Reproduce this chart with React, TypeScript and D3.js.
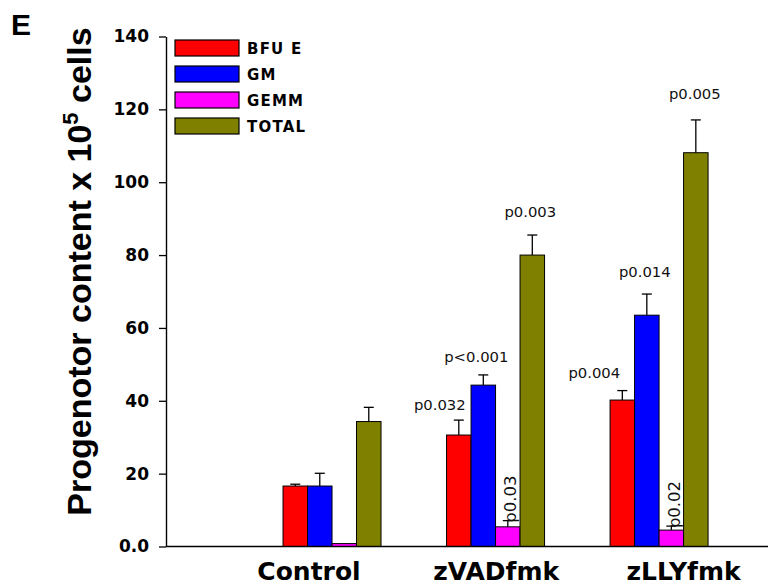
import React, { useEffect, useRef } from "react";
import * as d3 from "d3";

const categories = ["Control", "zVADfmk", "zLLYfmk"];
const seriesNames = ["BFU E", "GM", "GEMM", "TOTAL"];
const bfuE = [16.6, 30.6, 40.2];
const bfuEErr = [0.5, 4.1, 2.6];
const gm = [16.6, 44.3, 63.5];
const gmErr = [3.5, 2.8, 5.8];
const gemm = [0.8, 5.4, 4.5];
const gemmErr = [0, 1.7, 1.1];
const total = [34.3, 80.0, 108.1];
const totalErr = [3.9, 5.5, 9.0];
const bfuELabels = ["", "p0.032", "p0.004"];
const gmLabels = ["", "p<0.001", "p0.014"];
const gemmLabels = ["", "p0.03", "p0.02"];
const totalLabels = ["", "p0.003", "p0.005"];
const yTicks = [0, 20, 40, 60, 80, 100, 120, 140];

// layout constants (styling / nudges)
const colors = ["#ff0000", "#0000ff", "#ff00ff", "#808000"];
const labelNudge = [
  [[0, 0], [-19, 10], [-28, 13]],
  [[0, 0], [-7, 13], [-2, 17]],
  [[0, 0], [8, -2], [9, -2]],
  [[0, 0], [-2, 18], [-1, 21]],
];

export default function App() {
  const ref = useRef<SVGSVGElement>(null);
  useEffect(() => {
    const svg = d3.select(ref.current);
    svg.selectAll("*").remove();
    const values = [bfuE, gm, gemm, total];
    const errs = [bfuEErr, gmErr, gemmErr, totalErr];
    const labels = [bfuELabels, gmLabels, gemmLabels, totalLabels];

    const x = d3.scaleLinear().domain([0, 3.66]).range([168.5, 767]);
    const y = d3.scaleLinear().domain([0, 140]).range([546.5, 36.5]);
    const bw = 24.5;
    const bold = "'DejaVu Sans', sans-serif";

    // y axis
    const yAxis = d3
      .axisLeft(y)
      .tickValues(yTicks)
      .tickSize(7)
      .tickSizeOuter(0)
      .tickPadding(10)
      .tickFormat((d: any) => (d === 0 ? "0.0" : String(d)));
    const ga = svg.append("g").attr("transform", "translate(166,0)").call(yAxis as any);
    ga.select(".domain").attr("stroke", "#000").attr("stroke-width", 1.4);
    ga.selectAll(".tick line").attr("stroke", "#000").attr("stroke-width", 1.3);
    ga.selectAll(".tick text")
      .attr("font-family", bold)
      .attr("font-weight", "bold")
      .attr("font-size", 17)
      .attr("fill", "#000");

    // bars
    categories.forEach((_, ci) => {
      values.forEach((vals, si) => {
        const cx = x(ci + 1);
        const left = cx + (si - 2) * bw;
        const center = left + bw / 2;
        const top = y(vals[ci]);
        svg
          .append("rect")
          .attr("x", left)
          .attr("y", top)
          .attr("width", bw)
          .attr("height", y(0) - top)
          .attr("fill", colors[si])
          .attr("stroke", "#000")
          .attr("stroke-width", 1);
        const e = errs[si][ci];
        const capY = y(vals[ci] + e);
        if (e > 0) {
          svg.append("line").attr("x1", center).attr("x2", center).attr("y1", top).attr("y2", capY)
            .attr("stroke", "#000").attr("stroke-width", 1.3);
          svg.append("line").attr("x1", center - 5).attr("x2", center + 5).attr("y1", capY).attr("y2", capY)
            .attr("stroke", "#000").attr("stroke-width", 1.3);
        }
        const lab = labels[si][ci];
        if (lab) {
          const [dx, gap] = labelNudge[si][ci];
          if (si === 2) {
            svg.append("text")
              .attr("transform", `translate(${center + dx},${capY - gap}) rotate(-90)`)
              .attr("font-family", "'DejaVu Sans', sans-serif")
              .attr("font-size", 16.5)
              .attr("fill", "#111")
              .text(lab);
          } else {
            svg.append("text")
              .attr("x", center + dx)
              .attr("y", capY - gap)
              .attr("text-anchor", "middle")
              .attr("font-family", "'DejaVu Sans', sans-serif")
              .attr("font-size", 14.8)
              .attr("fill", "#111")
              .text(lab);
          }
        }
      });
    });

    // x axis line
    svg.append("line").attr("x1", 166).attr("x2", 768).attr("y1", y(0)).attr("y2", y(0))
      .attr("stroke", "#000").attr("stroke-width", 1.5);

    // category labels
    const xl = d3.scalePoint().domain(categories).range([309, 683.5]);
    svg.selectAll(".cat").data(categories).enter().append("text")
      .attr("x", (d) => xl(d) as number)
      .attr("y", 580)
      .attr("text-anchor", "middle")
      .attr("font-family", bold)
      .attr("font-weight", "bold")
      .attr("font-size", 25)
      .attr("fill", "#000")
      .text((d) => d);

    // legend
    seriesNames.forEach((name, i) => {
      const ty = 40 + i * 26;
      svg.append("rect").attr("x", 175).attr("y", ty).attr("width", 64).attr("height", 16)
        .attr("fill", colors[i]).attr("stroke", "#000").attr("stroke-width", 1.2);
      svg.append("text").attr("x", 247).attr("y", ty + 14)
        .attr("font-family", bold).attr("font-weight", "bold").attr("font-size", 15)
        .attr("letter-spacing", 1.2).attr("fill", "#000").text(name);
    });

    // y title
    const t = svg.append("text")
      .attr("transform", "translate(91,271.5) rotate(-90)")
      .attr("text-anchor", "middle")
      .attr("font-family", "'Liberation Sans', Arial, sans-serif")
      .attr("font-weight", "bold")
      .attr("font-size", 34)
      .attr("fill", "#000");
    t.append("tspan").text("Progenotor content x 10");
    t.append("tspan").attr("font-size", 22).attr("dy", -13).text("5");
    t.append("tspan").attr("dy", 13).text(" cells");

    // panel letter
    svg.append("text").attr("x", 11).attr("y", 35)
      .attr("font-family", "'Liberation Sans', Arial, sans-serif")
      .attr("font-weight", "bold").attr("font-size", 30).attr("fill", "#000").text("E");
  }, []);

  return (
    <svg
      ref={ref}
      width={768}
      height={588}
      style={{ position: "absolute", left: 0, top: 0, background: "#fff" }}
    />
  );
}
